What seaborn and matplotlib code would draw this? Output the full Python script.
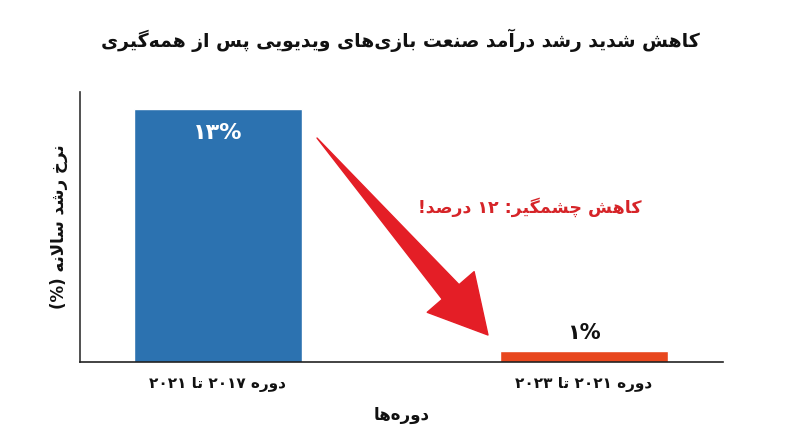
import matplotlib
matplotlib.use("Agg")
import matplotlib.pyplot as plt
import seaborn as sns
import pandas as pd

# Chart data
periods = ["دوره ۲۰۱۷ تا ۲۰۲۱", "دوره ۲۰۲۱ تا ۲۰۲۳"]
growth = [13, 1]
growth_labels = ["۱۳%", "۱%"]
bar_colors = ["#2c72b0", "#e8471e"]

title = "کاهش شدید رشد درآمد صنعت بازی‌های ویدیویی پس از همه‌گیری"
xlabel = "دوره‌ها"
ylabel = "نرخ رشد سالانه (%)"
note = "کاهش چشمگیر: ۱۲ درصد!"

# matplotlib has no Arabic shaping, so map letters to presentation forms
# (isolated, final, initial, medial); right-joining letters have only two
FORMS = {
    'ا': (0xFE8D, 0xFE8E, None, None),
    'آ': (0xFE81, 0xFE82, None, None),
    'د': (0xFEA9, 0xFEAA, None, None),
    'ر': (0xFEAD, 0xFEAE, None, None),
    'ز': (0xFEAF, 0xFEB0, None, None),
    'و': (0xFEED, 0xFEEE, None, None),
    'ب': (0xFE8F, 0xFE90, 0xFE91, 0xFE92),
    'ت': (0xFE95, 0xFE96, 0xFE97, 0xFE98),
    'خ': (0xFEA5, 0xFEA6, 0xFEA7, 0xFEA8),
    'س': (0xFEB1, 0xFEB2, 0xFEB3, 0xFEB4),
    'ش': (0xFEB5, 0xFEB6, 0xFEB7, 0xFEB8),
    'ص': (0xFEB9, 0xFEBA, 0xFEBB, 0xFEBC),
    'ع': (0xFEC9, 0xFECA, 0xFECB, 0xFECC),
    'ل': (0xFEDD, 0xFEDE, 0xFEDF, 0xFEE0),
    'م': (0xFEE1, 0xFEE2, 0xFEE3, 0xFEE4),
    'ن': (0xFEE5, 0xFEE6, 0xFEE7, 0xFEE8),
    'ه': (0xFEE9, 0xFEEA, 0xFEEB, 0xFEEC),
    'پ': (0xFB56, 0xFB57, 0xFB58, 0xFB59),
    'چ': (0xFB7A, 0xFB7B, 0xFB7C, 0xFB7D),
    'ک': (0xFB8E, 0xFB8F, 0xFB90, 0xFB91),
    'گ': (0xFB92, 0xFB93, 0xFB94, 0xFB95),
    'ی': (0xFBFC, 0xFBFD, 0xFBFE, 0xFBFF),
}
LAM_ALEF = {'ا': (0xFEFB, 0xFEFC), 'آ': (0xFEF5, 0xFEF6)}
MIRROR = {'(': ')', ')': '('}


def joins_fwd(c):
    return c in FORMS and FORMS[c][2] is not None


def shape(text):
    out = []
    i, n = 0, len(text)
    while i < n:
        c = text[i]
        if c not in FORMS:
            if c != '\u200c':
                out.append(c)
            i += 1
            continue
        p = i > 0 and joins_fwd(text[i - 1])
        if c == 'ل' and i + 1 < n and text[i + 1] in LAM_ALEF:
            lig = LAM_ALEF[text[i + 1]]
            out.append(chr(lig[1] if p else lig[0]))
            i += 2
            continue
        f = FORMS[c]
        nx = f[2] is not None and i + 1 < n and text[i + 1] in FORMS
        if p and nx:
            g = f[3]
        elif p:
            g = f[1]
        elif nx:
            g = f[2]
        else:
            g = f[0]
        out.append(chr(g))
        i += 1
    return ''.join(out)


def fa(text):
    # shape, then lay out right-to-left keeping numbers left-to-right
    s = shape(text)
    runs = []
    for ch in s:
        is_num = bool(ch.isdigit() or (ch == '%' and runs and runs[-1][0]))
        if runs and runs[-1][0] == is_num:
            runs[-1][1].append(ch)
        else:
            runs.append([is_num, [ch]])
    parts = []
    for is_num, chs in reversed(runs):
        if is_num:
            parts.append(''.join(chs))
        else:
            parts.append(''.join(MIRROR.get(c, c) for c in reversed(chs)))
    return ''.join(parts)


df = pd.DataFrame({"period": [fa(p) for p in periods], "growth": growth})

sns.set_style("white")
plt.rcParams['font.family'] = ['DejaVu Sans']
plt.rcParams['font.weight'] = 'bold'

fig = plt.figure(figsize=(8, 4.47), dpi=100)
ax = fig.add_axes([80 / 800, 85 / 447, 643 / 800, 270 / 447])

sns.barplot(data=df, x="period", y="growth", hue="period", palette=bar_colors,
            width=0.46, legend=False, ax=ax, saturation=1)

ax.set_xlim(-0.377, 1.38)
ax.set_ylim(0.45, 13.84)
ax.set_yticks([])
ax.tick_params(axis='x', length=0, pad=11, labelsize=11, labelcolor='#111111')
for lbl in ax.get_xticklabels():
    lbl.set_fontweight('bold')

ax.spines['top'].set_visible(False)
ax.spines['right'].set_visible(False)
ax.spines['left'].set_color('#333333')
ax.spines['bottom'].set_color('#222222')
ax.spines['left'].set_linewidth(1.2)
ax.spines['bottom'].set_linewidth(1.2)

ax.set_xlabel(fa(xlabel), fontsize=12, fontweight='bold', labelpad=10, color='#111111')
ax.set_ylabel(fa(ylabel), fontsize=12, fontweight='bold', labelpad=9, color='#111111')
fig.text(0.5, 1 - 40 / 447, fa(title), ha='center', va='center',
         fontsize=13.5, fontweight='bold', color='#111111')

# value labels: inside the tall bar, above the short one
for i, (v, lab) in enumerate(zip(growth, growth_labels)):
    if v > 5:
        ax.annotate(fa(lab), (i, v), xytext=(0, -17), textcoords='offset points',
                    ha='center', va='center', color='white', fontsize=16,
                    fontweight='bold')
    else:
        ax.annotate(fa(lab), (i, v), xytext=(0, 13), textcoords='offset points',
                    ha='center', va='center', color='#111111', fontsize=15,
                    fontweight='bold')

# red arrow: tapered shaft (wedge) plus a triangular head
arrow_red = '#e41e26'
ax.annotate("", xy=(0.3686, 0.8296), xytext=(0.5765, 0.2593),
            xycoords='axes fraction', textcoords='axes fraction',
            arrowprops=dict(arrowstyle='wedge,tail_width=0.8,shrink_factor=0.5',
                            mutation_scale=20, color=arrow_red, shrinkA=0, shrinkB=0))
ax.annotate("", xy=(0.6345, 0.10), xytext=(0.5714, 0.2733),
            xycoords='axes fraction', textcoords='axes fraction',
            arrowprops=dict(arrowstyle='simple,head_length=1.0,head_width=1.09,tail_width=0.35',
                            mutation_scale=41, color=arrow_red, shrinkA=0, shrinkB=0))
ax.text(0.70, 0.574, fa(note), transform=ax.transAxes, ha='center', va='center',
        color='#d62428', fontsize=12.5, fontweight='bold')

fig.savefig("out.png", dpi=100)
